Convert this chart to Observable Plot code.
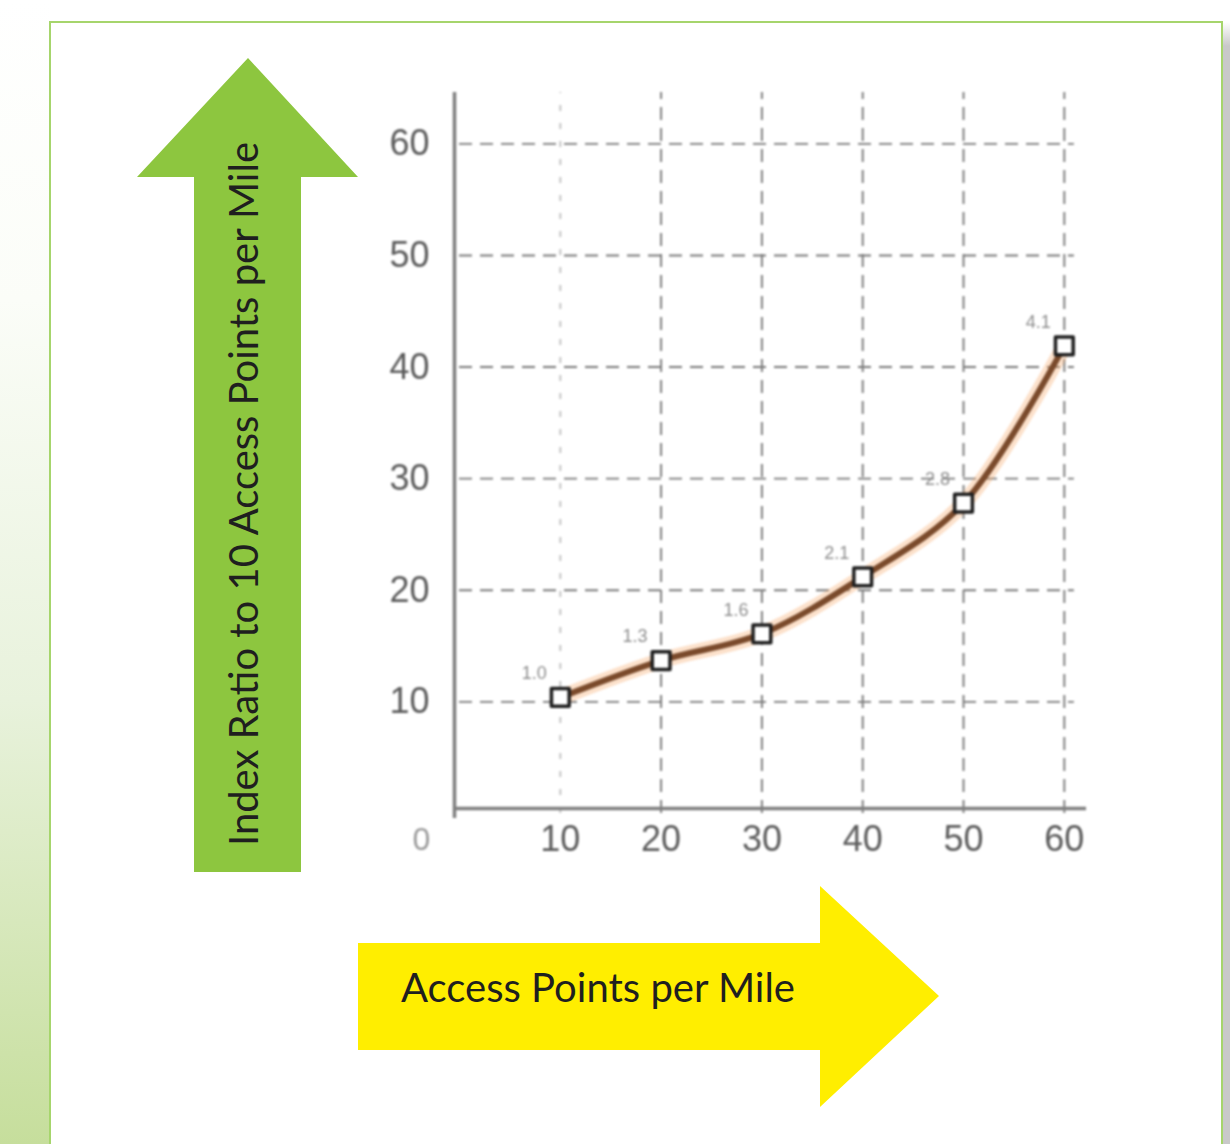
<!DOCTYPE html>
<html>
<head>
<meta charset="utf-8">
<script src="https://cdn.jsdelivr.net/npm/d3@7"></script>
<script src="https://cdn.jsdelivr.net/npm/@observablehq/plot@0.6"></script>
<style>
  html, body { margin: 0; padding: 0; background: #ffffff; }
  #page { position: relative; width: 1230px; height: 1144px; overflow: hidden; background: #ffffff; }
  #strip { position: absolute; left: 0; top: 0; width: 50px; height: 1144px;
    background: linear-gradient(to bottom, #ffffff 0px, #fbfdf8 300px, #e8f2dc 700px, #c6de9c 1144px); }
  #frame { position: absolute; left: 49px; top: 21px; width: 1170px; height: 1200px;
    border: 2px solid #a6d56c; background: #ffffff; }
  #shadow { position: absolute; left: 1223px; top: 22px; width: 7px; height: 1122px;
    background: linear-gradient(to bottom, #ffffff 0px, #c9c9c9 24px, #c9c9c9 100%); }
  #chart { position: absolute; left: 380px; top: 80px; }
  #chart svg { filter: blur(0.9px); }
  #arrows { position: absolute; left: 0; top: 0; }
</style>
</head>
<body>
<div id="page">
  <div id="strip"></div>
  <div id="shadow"></div>
  <div id="frame"></div>
  <div id="chart"></div>
  <svg id="arrows" width="1230" height="1144"></svg>
</div>
<script>
// Access points per mile (x) and the resulting index value (y)
const accessPoints = [10, 20, 30, 40, 50, 60];
const indexValues = [10.4, 13.7, 16.1, 21.2, 27.8, 41.9];
const ratioLabels = ["1.0", "1.3", "1.6", "2.1", "2.8", "4.1"];
const xTicks = [10, 20, 30, 40, 50, 60];
const yTicks = [10, 20, 30, 40, 50, 60];
const originLabel = "0";
const yAxisTitle = "Index Ratio to 10 Access Points per Mile";
const xAxisTitle = "Access Points per Mile";

const points = accessPoints.map((x, i) => ({ x, y: indexValues[i], label: ratioLabels[i] }));

const tickFont = "'Liberation Sans', Arial, sans-serif";
const gridStyle = { stroke: "#7a7a7a", strokeWidth: 1.9, strokeDasharray: "13,8" };

const chart = Plot.plot({
  width: 720,
  height: 800,
  marginLeft: 79,
  marginRight: 14,
  marginTop: 12,
  marginBottom: 67,
  x: { domain: [0, 62.2], axis: null },
  y: { domain: [0, 64.6], axis: null },
  style: { background: "transparent", fontFamily: tickFont, overflow: "visible" },
  marks: [
    // dashed grid
    Plot.ruleY(yTicks, { x1: 0, x2: 61, ...gridStyle }),
    Plot.ruleX(xTicks.slice(1), { y1: 0, y2: 64.6, ...gridStyle }),
    Plot.ruleX(xTicks.slice(0, 1), { y1: 0, y2: 64.6, stroke: "#c4c4c4", strokeWidth: 2, strokeDasharray: "6,12" }),
    // axis lines
    Plot.ruleX([0], { y1: -0.45, y2: 64.6, dx: -5, stroke: "#7e7e7e", strokeWidth: 3.5 }),
    Plot.ruleY([0], { x1: -0.5, x2: 62.2, dy: -5, stroke: "#7e7e7e", strokeWidth: 3.5 }),
    // tick labels
    Plot.text(xTicks, { x: d => d, y: 0, dy: 26, text: d => String(d), fontSize: 36, fill: "#5c5c5c", textAnchor: "middle", lineAnchor: "middle" }),
    Plot.text(yTicks, { x: 0, y: d => d, dx: -30, text: d => String(d), fontSize: 36, fill: "#5c5c5c", textAnchor: "end", lineAnchor: "middle" }),
    Plot.text([originLabel], { x: 0, y: 0, dx: -38, dy: 26, text: d => d, fontSize: 32, fill: "#9a9a9a", lineAnchor: "middle" }),
    // curve with a soft warm halo
    Plot.line(points, { x: "x", y: "y", curve: "catmull-rom", stroke: "#f6a96a", strokeWidth: 16, strokeOpacity: 0.35 }),
    Plot.line(points, { x: "x", y: "y", curve: "catmull-rom", stroke: "#7a4a2b", strokeWidth: 6 }),
    // markers and ratio labels
    Plot.dot(points, { x: "x", y: "y", symbol: "square", r: 10, fill: "#ffffff", stroke: "#1e1e1e", strokeWidth: 3.5, strokeLinejoin: "round" }),
    Plot.text(points, { x: "x", y: "y", text: "label", dx: -26, dy: -24, fontSize: 18, fill: "#8e8e8e" })
  ]
});
document.getElementById("chart").appendChild(chart);

// Direction arrows with the axis titles
const svg = d3.select("#arrows");
svg.append("polygon")
  .attr("points", "248,58 358,177 301,177 301,872 194,872 194,177 137,177")
  .attr("fill", "#8dc63f");
svg.append("polygon")
  .attr("points", "358,943 820,943 820,886 939,996 820,1107 820,1050 358,1050")
  .attr("fill", "#ffee00");
svg.append("text")
  .attr("x", 258).attr("y", 846)
  .attr("transform", "rotate(-90 258 846)")
  .attr("font-family", "Lato, 'Open Sans', sans-serif")
  .attr("font-size", 40)
  .attr("fill", "#1f1f1f")
  .attr("textLength", 704)
  .attr("lengthAdjust", "spacingAndGlyphs")
  .text(yAxisTitle);
svg.append("text")
  .attr("x", 401).attr("y", 1002)
  .attr("font-family", "Lato, 'Open Sans', sans-serif")
  .attr("font-size", 40)
  .attr("fill", "#1f1f1f")
  .attr("textLength", 394)
  .attr("lengthAdjust", "spacingAndGlyphs")
  .text(xAxisTitle);
</script>
</body>
</html>
